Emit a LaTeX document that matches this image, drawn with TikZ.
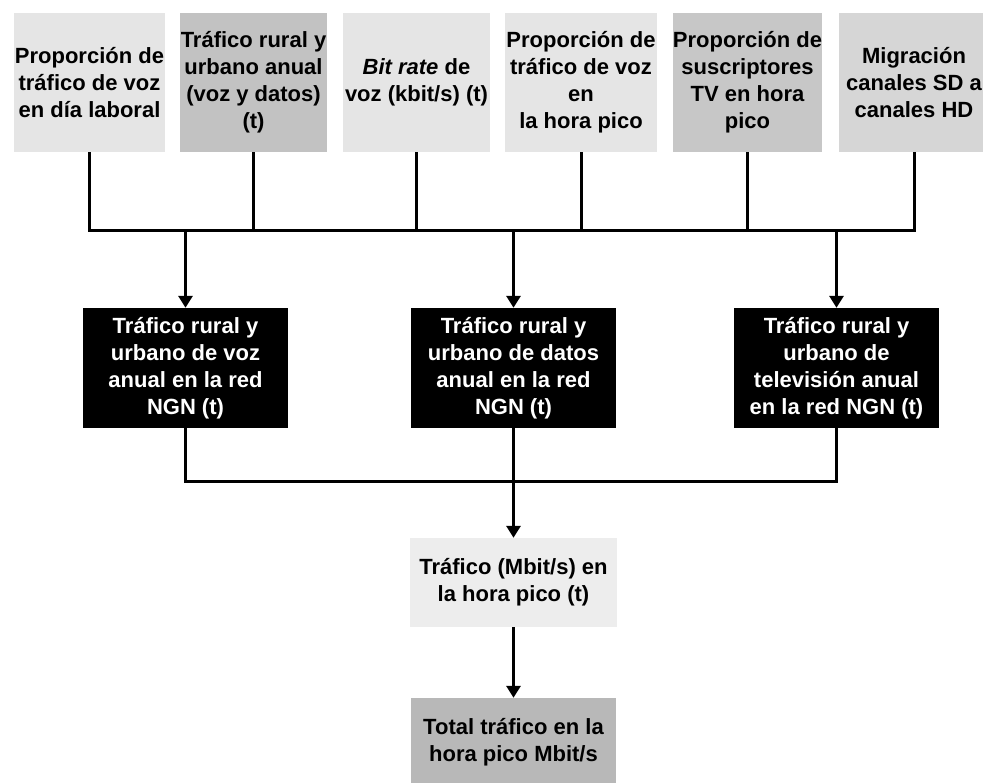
\documentclass[tikz,border=0pt]{standalone}
\usepackage{fontspec}
\setmainfont{Liberation Sans}
\usetikzlibrary{arrows.meta}
\begin{document}
\begin{tikzpicture}[x=1pt,y=1pt,
  box/.style={inner sep=0pt, align=center, font=\bfseries\fontsize{22}{27}\selectfont, text=black},
  topbox/.style={box, minimum height=139pt},
  darkbox/.style={box, fill=black, text=white, minimum width=205pt, minimum height=120pt},
  conn/.style={line width=3pt, draw=black, line join=miter},
  arrow/.style={conn, -{Triangle[width=14pt,length=12pt]}},
]
\useasboundingbox (0,0) rectangle (983,-783);
\fill[white] (0,0) rectangle (983,-783);

% top inputs
\node[topbox, fill=black!10, minimum width=151pt] (t1) at (89.5,-82.5) {Proporción de\\tráfico de voz\\en día laboral};
\node[topbox, fill=black!24, minimum width=147pt] (t2) at (253.5,-82.5) {Tráfico rural y\\urbano anual\\(voz y datos)\\(t)};
\node[topbox, fill=black!10, minimum width=147pt] (t3) at (416.5,-82.5) {\textit{Bit rate} de\\voz (kbit/s) (t)};
\node[topbox, fill=black!10, minimum width=152pt] (t4) at (581,-82.5) {Proporción de\\tráfico de voz\\en\\la hora pico};
\node[topbox, fill=black!22, minimum width=145pt] (t5) at (747.5,-82.5) {Proporción de\\suscriptores\\TV en hora\\pico};
\node[topbox, fill=black!16, minimum width=150pt] (t6) at (914,-82.5) {Migración\\canales SD a\\canales HD};

% middle black boxes
\node[darkbox] (b1) at (185.5,-368) {Tráfico rural y\\urbano de voz\\anual en la red\\NGN (t)};
\node[darkbox] (b2) at (513.5,-368) {Tráfico rural y\\urbano de datos\\anual en la red\\NGN (t)};
\node[darkbox] (b3) at (836.5,-368) {Tráfico rural y\\urbano de\\televisión anual\\en la red NGN (t)};

% lower boxes
\node[box, fill=black!7, minimum width=207pt, minimum height=89pt] (traf) at (513.5,-582.5) {Tráfico (Mbit/s) en\\la hora pico (t)};
\node[box, fill=black!28, minimum width=205pt, minimum height=88pt] (total) at (513.5,-742) {Total tráfico en la\\hora pico Mbit/s};

\coordinate (bus) at (0,-231);
\coordinate (lbus) at (0,-482);

% top bus
\draw[conn] (t1.south) -- (t1.south |- bus) -- (t6.south |- bus) -- (t6.south);
\draw[conn] (t2.south) -- (t2.south |- bus);
\draw[conn] (t3.south) -- (t3.south |- bus);
\draw[conn] (t4.south) -- (t4.south |- bus);
\draw[conn] (t5.south) -- (t5.south |- bus);

\draw[arrow] (b1.north |- bus) -- (b1.north);
\draw[arrow] (b2.north |- bus) -- (b2.north);
\draw[arrow] (b3.north |- bus) -- (b3.north);

% lower bus
\draw[conn] (b1.south) -- (b1.south |- lbus) -- (b3.south |- lbus) -- (b3.south);
\draw[arrow] (b2.south) -- (traf.north);
\draw[arrow] (traf.south) -- (total.north);
\end{tikzpicture}
\end{document}
